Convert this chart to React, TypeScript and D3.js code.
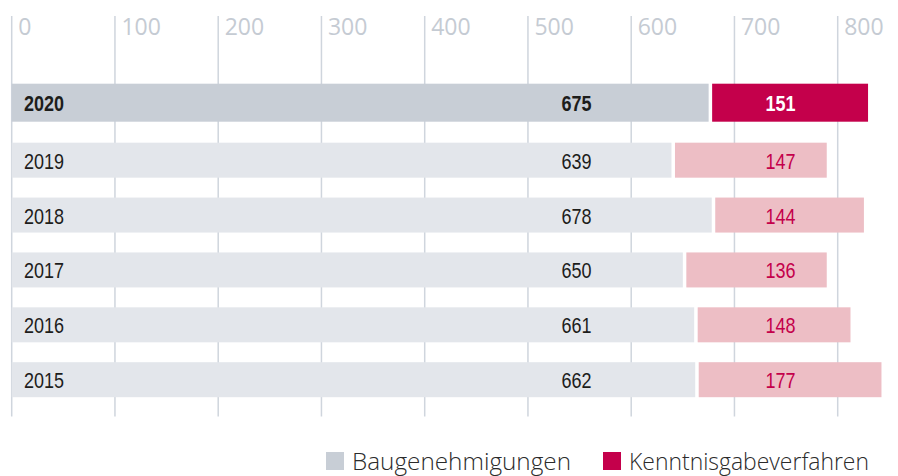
import React from "react";
import * as d3 from "d3";

const years = ["2020", "2019", "2018", "2017", "2016", "2015"];
const baugenehmigungen = [675, 639, 678, 650, 661, 662];
const kenntnisgabe = [151, 147, 144, 136, 148, 177];
const tickValues = [0, 100, 200, 300, 400, 500, 600, 700, 800];
const seriesNames = ["Baugenehmigungen", "Kenntnisgabeverfahren"];
const highlightYear = "2020";

const W = 898;
const H = 476;

const COND = "'Liberation Sans', Arial, sans-serif";
const SANS = "'Open Sans', 'Noto Sans', sans-serif";
const SQ = 0.8; // horizontal condensing factor

function CondText(props: {
  x: number;
  y: number;
  anchor?: string;
  bold?: boolean;
  fill: string;
  children: React.ReactNode;
}) {
  return (
    <text
      transform={`translate(${props.x},${props.y}) scale(${SQ},1)`}
      textAnchor={props.anchor || "start"}
      fontFamily={COND}
      fontSize={22.5}
      fontWeight={props.bold ? 700 : 400}
      fill={props.fill}
    >
      {props.children}
    </text>
  );
}

export default function App() {
  const x = d3.scaleLinear().domain([0, 800]).range([11.7, 837.7]);
  const y = d3.scalePoint<string>().domain(years).range([105.3, 379.7]);
  const gap = 3.5;
  const grey = "#c8ced6";
  const greyLight = "#e3e6eb";
  const red = "#c4004b";
  const pink = "#edbec5";
  const greyLabelX = x(547);
  const redLabelX = x(744.5);

  return (
    <svg
      width={W}
      height={H}
      viewBox={`0 0 ${W} ${H}`}
      style={{ position: "absolute", left: 0, top: 0, background: "#fff" }}
    >
      {tickValues.map((t) => (
        <g key={t}>
          <line x1={x(t)} x2={x(t)} y1={16} y2={416.5} stroke="#cfd5dd" strokeWidth={1.5} />
          <text x={x(t) + 6.5} y={35} fontFamily={SANS} fontSize={23} fill="#c5cbd3">
            {t}
          </text>
        </g>
      ))}
      {years.map((yr, i) => {
        const hi = yr === highlightYear;
        const cy = (y(yr) as number) - (hi ? 2.6 : 0);
        const h = hi ? 38 : 35;
        const b = baugenehmigungen[i];
        const k = kenntnisgabe[i];
        const x0 = x(0);
        const xb = x(b);
        const xk0 = xb + gap;
        const wk = x(k) - x(0);
        return (
          <g key={yr}>
            <rect x={x0} y={cy - h / 2} width={xb - x0} height={h} fill={hi ? grey : greyLight} />
            <rect x={xk0} y={cy - h / 2} width={wk} height={h} fill={hi ? red : pink} />
            <CondText x={24} y={cy + 8.5} bold={hi} fill="#1d1d1b">
              {yr}
            </CondText>
            <CondText x={greyLabelX} y={cy + 8.5} anchor="middle" bold={hi} fill="#1d1d1b">
              {b}
            </CondText>
            <CondText x={redLabelX} y={cy + 8.5} anchor="middle" bold={hi} fill={hi ? "#ffffff" : red}>
              {k}
            </CondText>
          </g>
        );
      })}
      <g>
        <rect x={326} y={452} width={18} height={18} fill={grey} />
        <text
          x={352}
          y={470}
          fontFamily={SANS}
          fontWeight={300}
          fontSize={24}
          fill="#2b2b2b"
          textLength={219}
          lengthAdjust="spacingAndGlyphs"
        >
          {seriesNames[0]}
        </text>
        <rect x={603} y={452} width={18} height={18} fill={red} />
        <text
          x={629}
          y={470}
          fontFamily={SANS}
          fontWeight={300}
          fontSize={24}
          fill="#2b2b2b"
          textLength={240}
          lengthAdjust="spacingAndGlyphs"
        >
          {seriesNames[1]}
        </text>
      </g>
    </svg>
  );
}
